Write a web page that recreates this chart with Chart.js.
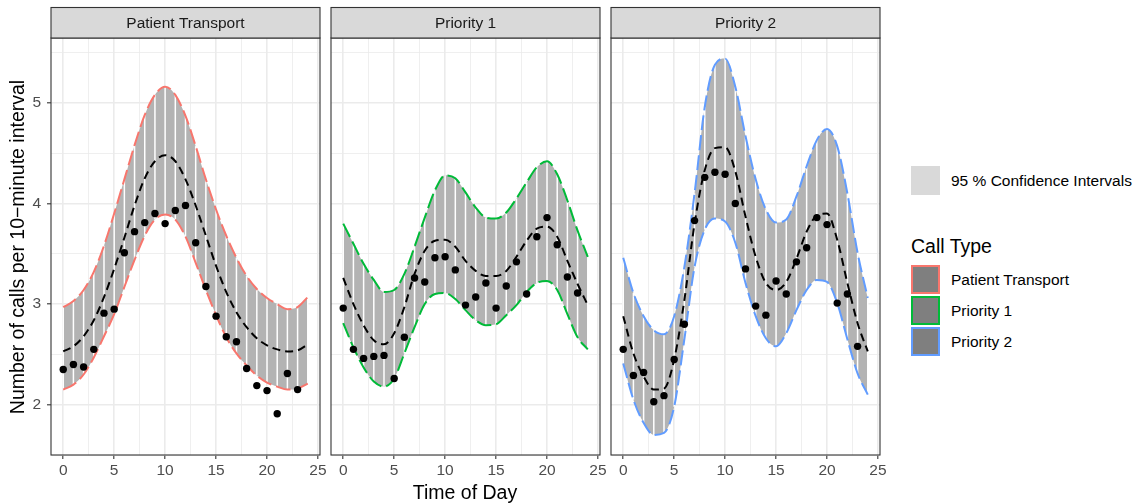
<!DOCTYPE html>
<html>
<head>
<meta charset="utf-8">
<script src="https://cdn.jsdelivr.net/npm/chart.js@4.4.0/dist/chart.umd.min.js"></script>
<style>
  body { margin: 0; width: 1145px; height: 504px; background: #fff; position: relative; overflow: hidden;
         font-family: "Liberation Sans", Arial, sans-serif; }
  canvas.panel { position: absolute; top: 0; }
  .txt { position: absolute; white-space: nowrap; color: #000; }
  .key { position: absolute; box-sizing: border-box; width: 29px; height: 29px; }
</style>
</head>
<body>
<canvas id="p1" class="panel" style="left:0px" width="335" height="504"></canvas>
<canvas id="p2" class="panel" style="left:318px" width="297" height="504"></canvas>
<canvas id="p3" class="panel" style="left:598px" width="297" height="504"></canvas>

<div class="txt" style="left:-193px; top:235px; width:420px; height:24px; line-height:24px; text-align:center; font-size:19.5px; transform:rotate(-90deg);">Number of calls per 10−minute interval</div>
<div class="txt" style="left:365px; top:480px; width:200px; height:24px; line-height:24px; text-align:center; font-size:19.5px;">Time of Day</div>

<!-- legend -->
<div class="key" style="left:911px; top:166px; background:#d9d9d9;"></div>
<div class="txt" style="left:951px; top:170px; line-height:22px; font-size:15.5px;">95 % Confidence Intervals</div>
<div class="txt" style="left:911px; top:234px; line-height:24px; font-size:19.5px;">Call Type</div>
<div class="key" style="left:911px; top:265px; background:#7f7f7f; border:2px solid #F8766D;"></div>
<div class="key" style="left:911px; top:296px; background:#7f7f7f; border:2px solid #00BA38;"></div>
<div class="key" style="left:911px; top:327px; background:#7f7f7f; border:2px solid #619CFF;"></div>
<div class="txt" style="left:951px; top:268.5px; line-height:22px; font-size:15.5px;">Patient Transport</div>
<div class="txt" style="left:951px; top:299.5px; line-height:22px; font-size:15.5px;">Priority 1</div>
<div class="txt" style="left:951px; top:330.5px; line-height:22px; font-size:15.5px;">Priority 2</div>

<script>
// hour of day for the fitted curves and for the observed means
const hours = [0, 1, 2, 3, 4, 5, 6, 7, 8, 9, 10, 11, 12, 13, 14, 15, 16, 17, 18, 19, 20, 21, 22, 23, 24];
const obsHours = [0, 1, 2, 3, 4, 5, 6, 7, 8, 9, 10, 11, 12, 13, 14, 15, 16, 17, 18, 19, 20, 21, 22, 23];

const panelNames = ['Patient Transport', 'Priority 1', 'Priority 2'];

// Patient Transport
const ptUpper = [2.97, 3.03, 3.14, 3.32, 3.58, 3.90, 4.24, 4.58, 4.88, 5.08, 5.16, 5.08, 4.87, 4.57, 4.24, 3.94, 3.68, 3.46, 3.28, 3.15, 3.06, 3.00, 2.95, 2.97, 3.07];
const ptMean  = [2.53, 2.58, 2.68, 2.84, 3.07, 3.35, 3.66, 3.98, 4.25, 4.42, 4.48, 4.42, 4.24, 3.98, 3.68, 3.38, 3.12, 2.92, 2.77, 2.66, 2.59, 2.55, 2.53, 2.54, 2.60];
const ptLower = [2.15, 2.20, 2.30, 2.47, 2.68, 2.90, 3.17, 3.44, 3.68, 3.84, 3.89, 3.84, 3.67, 3.41, 3.14, 2.89, 2.67, 2.51, 2.39, 2.29, 2.22, 2.18, 2.15, 2.16, 2.21];
const ptObs   = [2.35, 2.40, 2.375, 2.55, 2.91, 2.95, 3.51, 3.72, 3.81, 3.90, 3.80, 3.93, 3.98, 3.61, 3.175, 2.88, 2.675, 2.625, 2.36, 2.19, 2.14, 1.91, 2.31, 2.15];

// Priority 1
const p1Upper = [3.80, 3.60, 3.40, 3.24, 3.12, 3.14, 3.30, 3.57, 3.86, 4.13, 4.28, 4.25, 4.11, 3.96, 3.86, 3.85, 3.91, 4.05, 4.21, 4.36, 4.42, 4.29, 4.03, 3.73, 3.47];
const p1Mean  = [3.26, 3.00, 2.79, 2.64, 2.60, 2.71, 2.97, 3.30, 3.53, 3.63, 3.64, 3.57, 3.43, 3.33, 3.28, 3.28, 3.33, 3.47, 3.63, 3.75, 3.77, 3.67, 3.43, 3.20, 2.99];
const p1Lower = [2.81, 2.57, 2.37, 2.23, 2.18, 2.26, 2.51, 2.77, 3.00, 3.10, 3.11, 3.05, 2.94, 2.84, 2.79, 2.80, 2.89, 2.99, 3.12, 3.21, 3.23, 3.14, 2.90, 2.67, 2.55];
const p1Obs   = [2.96, 2.55, 2.46, 2.48, 2.49, 2.26, 2.67, 3.26, 3.22, 3.46, 3.47, 3.34, 2.99, 3.07, 3.21, 2.96, 3.18, 3.42, 3.10, 3.67, 3.86, 3.59, 3.27, 3.11];

// Priority 2
const p2Upper = [3.46, 3.11, 2.88, 2.74, 2.70, 2.88, 3.37, 4.10, 4.96, 5.38, 5.44, 5.16, 4.67, 4.24, 3.94, 3.81, 3.84, 4.07, 4.37, 4.63, 4.74, 4.57, 4.10, 3.51, 3.06];
const p2Mean  = [2.88, 2.51, 2.28, 2.15, 2.16, 2.45, 3.04, 3.80, 4.33, 4.55, 4.56, 4.32, 3.87, 3.47, 3.21, 3.14, 3.22, 3.45, 3.72, 3.88, 3.90, 3.64, 3.21, 2.81, 2.53];
const p2Lower = [2.41, 2.05, 1.82, 1.70, 1.72, 1.98, 2.65, 3.37, 3.74, 3.85, 3.82, 3.61, 3.21, 2.88, 2.66, 2.58, 2.71, 2.94, 3.14, 3.24, 3.22, 3.01, 2.65, 2.31, 2.10];
const p2Obs   = [2.55, 2.29, 2.32, 2.03, 2.09, 2.45, 2.80, 3.83, 4.26, 4.31, 4.29, 4.00, 3.35, 2.98, 2.89, 3.23, 3.10, 3.42, 3.56, 3.86, 3.79, 3.01, 3.10, 2.58];

// axis breaks: labelled majors and the minor grid between them
const xLabels = [0, 5, 10, 15, 20, 25];
const xGrid = [0, 2.5, 5, 7.5, 10, 12.5, 15, 17.5, 20, 22.5, 25];
const yLabels = [2, 3, 4, 5];
const yGrid = [1.5, 2, 2.5, 3, 3.5, 4, 4.5, 5, 5.5];

const FONT = '"Liberation Sans", Arial, sans-serif';

// strip, panel border and the white hour stripes across the band
const facetDecor = {
    id: 'facetDecor',
    beforeDatasetsDraw(chart, args, opts) {
        const { ctx, chartArea } = chart;
        const xs = chart.scales.x, ys = chart.scales.y;
        ctx.save();
        ctx.beginPath();
        ctx.rect(chartArea.left, chartArea.top, chartArea.width, chartArea.height);
        ctx.clip();
        ctx.strokeStyle = '#ffffff';
        ctx.lineWidth = 1.5;
        hours.forEach((h, i) => {
            const x = xs.getPixelForValue(h);
            ctx.beginPath();
            ctx.moveTo(x, ys.getPixelForValue(opts.lower[i]));
            ctx.lineTo(x, ys.getPixelForValue(opts.upper[i]));
            ctx.stroke();
        });
        ctx.restore();
    },
    afterDraw(chart, args, opts) {
        const { ctx, chartArea } = chart;
        ctx.save();
        ctx.strokeStyle = '#333333';
        ctx.lineWidth = 1.1;
        ctx.strokeRect(chartArea.left, chartArea.top, chartArea.width, chartArea.height);
        // facet strip
        ctx.fillStyle = '#d9d9d9';
        ctx.fillRect(chartArea.left, 7.5, chartArea.width, chartArea.top - 7.5);
        ctx.strokeRect(chartArea.left, 7.5, chartArea.width, chartArea.top - 7.5);
        ctx.fillStyle = '#1a1a1a';
        ctx.font = '15.5px ' + FONT;
        ctx.textAlign = 'center';
        ctx.textBaseline = 'middle';
        ctx.fillText(opts.title, (chartArea.left + chartArea.right) / 2, (7.5 + chartArea.top) / 2 + 1);
        ctx.restore();
    }
};

function xy(xs, ys) {
    return ys.map((v, i) => ({ x: xs[i], y: v }));
}

function makePanel(id, title, lower, mean, upper, obs, color, showY) {
    const ctx = document.getElementById(id).getContext('2d');
    return new Chart(ctx, {
        type: 'line',
        data: {
            datasets: [
                {
                    label: 'observed',
                    data: xy(obsHours, obs),
                    showLine: false,
                    pointRadius: 3.7,
                    pointBackgroundColor: '#000',
                    pointBorderWidth: 0,
                    order: 0
                },
                {
                    label: 'mean',
                    data: xy(hours, mean),
                    borderColor: '#000',
                    borderWidth: 2,
                    borderDash: [8, 5],
                    pointRadius: 0,
                    fill: false,
                    cubicInterpolationMode: 'monotone',
                    order: 1
                },
                {
                    label: 'upper',
                    data: xy(hours, upper),
                    borderColor: color,
                    borderWidth: 2,
                    borderDash: [15, 5],
                    pointRadius: 0,
                    fill: 3,
                    backgroundColor: '#b3b3b3',
                    cubicInterpolationMode: 'monotone',
                    order: 2
                },
                {
                    label: 'lower',
                    data: xy(hours, lower),
                    borderColor: color,
                    borderWidth: 2,
                    borderDash: [15, 5],
                    pointRadius: 0,
                    fill: false,
                    cubicInterpolationMode: 'monotone',
                    order: 3
                }
            ]
        },
        options: {
            responsive: false,
            animation: false,
            events: [],
            layout: { padding: { top: 38, bottom: 0, left: 0, right: 15 } },
            plugins: {
                legend: { display: false },
                tooltip: { enabled: false },
                filler: { drawTime: 'beforeDatasetsDraw' },
                facetDecor: { title: title, lower: lower, upper: upper }
            },
            scales: {
                x: {
                    type: 'linear',
                    min: -1.2,
                    max: 25.2,
                    afterBuildTicks: (s) => { s.ticks = xGrid.map(v => ({ value: v })); },
                    afterFit: (s) => { s.height = 49; },
                    border: { display: false },
                    grid: {
                        color: '#ebebeb',
                        lineWidth: (c) => (c.tick && c.tick.value % 5 === 0) ? 1.6 : 0.8,
                        tickLength: 4,
                        tickWidth: 1.1,
                        tickColor: (c) => (c.tick && c.tick.value % 5 === 0) ? '#333333' : 'rgba(0,0,0,0)'
                    },
                    ticks: {
                        autoSkip: false,
                        maxRotation: 0,
                        padding: 2,
                        color: '#4d4d4d',
                        font: { size: 15.5, family: FONT },
                        callback: (v) => xLabels.includes(v) ? String(v) : ''
                    }
                },
                y: {
                    type: 'linear',
                    min: 1.5,
                    max: 5.645,
                    afterBuildTicks: (s) => { s.ticks = yGrid.map(v => ({ value: v })); },
                    afterFit: (s) => { s.width = showY ? 51 : 13; },
                    border: { display: false },
                    grid: {
                        color: '#ebebeb',
                        lineWidth: (c) => (c.tick && Number.isInteger(c.tick.value)) ? 1.6 : 0.8,
                        drawTicks: showY,
                        tickLength: 4,
                        tickWidth: 1.1,
                        tickColor: (c) => (c.tick && Number.isInteger(c.tick.value)) ? '#333333' : 'rgba(0,0,0,0)'
                    },
                    ticks: {
                        display: showY,
                        autoSkip: false,
                        padding: 6,
                        color: '#4d4d4d',
                        font: { size: 15.5, family: FONT },
                        callback: (v) => yLabels.includes(v) ? String(v) : ''
                    }
                }
            }
        },
        plugins: [facetDecor]
    });
}

makePanel('p1', panelNames[0], ptLower, ptMean, ptUpper, ptObs, '#F8766D', true);
makePanel('p2', panelNames[1], p1Lower, p1Mean, p1Upper, p1Obs, '#00BA38', false);
makePanel('p3', panelNames[2], p2Lower, p2Mean, p2Upper, p2Obs, '#619CFF', false);
</script>
</body>
</html>
